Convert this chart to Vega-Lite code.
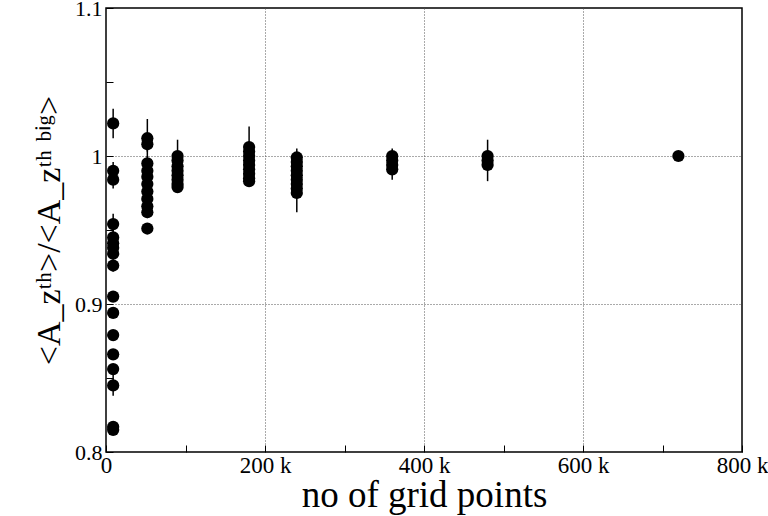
{
  "$schema": "https://vega.github.io/schema/vega-lite/v6.json",
  "width": 636,
  "height": 444,
  "autosize": {"type": "none"},
  "padding": {"left": 106, "top": 8, "right": 26, "bottom": 64},
  "background": "white",
  "config": {
    "font": "Liberation Serif",
    "view": {"stroke": "black", "strokeWidth": 1.5},
    "axis": {"domain": false}
  },
  "data": {
    "values": [
      {"n": 9000, "r": 1.022, "e": 0.010},
      {"n": 9000, "r": 0.990, "e": 0.006},
      {"n": 9000, "r": 0.984, "e": 0.006},
      {"n": 9000, "r": 0.954, "e": 0.007},
      {"n": 9000, "r": 0.945, "e": 0.004},
      {"n": 9000, "r": 0.941, "e": 0.004},
      {"n": 9000, "r": 0.938, "e": 0.004},
      {"n": 9000, "r": 0.934, "e": 0.004},
      {"n": 9000, "r": 0.926, "e": 0.004},
      {"n": 9000, "r": 0.905, "e": 0.003},
      {"n": 9000, "r": 0.894, "e": 0.003},
      {"n": 9000, "r": 0.879, "e": 0.003},
      {"n": 9000, "r": 0.866, "e": 0.003},
      {"n": 9000, "r": 0.856, "e": 0.003},
      {"n": 9000, "r": 0.845, "e": 0.007},
      {"n": 9000, "r": 0.817, "e": 0.003},
      {"n": 9000, "r": 0.815, "e": 0.003},
      {"n": 52000, "r": 1.012, "e": 0.013},
      {"n": 52000, "r": 1.008, "e": 0.005},
      {"n": 52000, "r": 0.995, "e": 0.005},
      {"n": 52000, "r": 0.990, "e": 0.005},
      {"n": 52000, "r": 0.986, "e": 0.004},
      {"n": 52000, "r": 0.981, "e": 0.004},
      {"n": 52000, "r": 0.976, "e": 0.004},
      {"n": 52000, "r": 0.971, "e": 0.004},
      {"n": 52000, "r": 0.966, "e": 0.004},
      {"n": 52000, "r": 0.962, "e": 0.004},
      {"n": 52000, "r": 0.951, "e": 0.003},
      {"n": 90000, "r": 1.000, "e": 0.011},
      {"n": 90000, "r": 0.997, "e": 0.004},
      {"n": 90000, "r": 0.993, "e": 0.004},
      {"n": 90000, "r": 0.990, "e": 0.004},
      {"n": 90000, "r": 0.987, "e": 0.004},
      {"n": 90000, "r": 0.984, "e": 0.004},
      {"n": 90000, "r": 0.981, "e": 0.003},
      {"n": 90000, "r": 0.979, "e": 0.003},
      {"n": 180000, "r": 1.006, "e": 0.014},
      {"n": 180000, "r": 1.003, "e": 0.004},
      {"n": 180000, "r": 1.000, "e": 0.004},
      {"n": 180000, "r": 0.997, "e": 0.004},
      {"n": 180000, "r": 0.994, "e": 0.004},
      {"n": 180000, "r": 0.991, "e": 0.004},
      {"n": 180000, "r": 0.988, "e": 0.004},
      {"n": 180000, "r": 0.985, "e": 0.003},
      {"n": 180000, "r": 0.983, "e": 0.003},
      {"n": 240000, "r": 0.999, "e": 0.006},
      {"n": 240000, "r": 0.996, "e": 0.004},
      {"n": 240000, "r": 0.993, "e": 0.004},
      {"n": 240000, "r": 0.990, "e": 0.004},
      {"n": 240000, "r": 0.987, "e": 0.004},
      {"n": 240000, "r": 0.984, "e": 0.004},
      {"n": 240000, "r": 0.981, "e": 0.004},
      {"n": 240000, "r": 0.978, "e": 0.004},
      {"n": 240000, "r": 0.975, "e": 0.013},
      {"n": 360000, "r": 1.000, "e": 0.005},
      {"n": 360000, "r": 0.997, "e": 0.004},
      {"n": 360000, "r": 0.994, "e": 0.004},
      {"n": 360000, "r": 0.991, "e": 0.007},
      {"n": 480000, "r": 1.000, "e": 0.004},
      {"n": 480000, "r": 0.997, "e": 0.014},
      {"n": 480000, "r": 0.994, "e": 0.004},
      {"n": 720000, "r": 1.000, "e": 0.0}
    ]
  },
  "transform": [
    {"calculate": "datum.r - datum.e", "as": "lo"},
    {"calculate": "datum.r + datum.e", "as": "hi"}
  ],
  "encoding": {
    "x": {
      "field": "n",
      "type": "quantitative",
      "scale": {"domain": [0, 800000], "nice": false, "zero": false},
      "axis": {
        "title": "no of grid points",
        "titleFontSize": 37,
        "titleFontWeight": "normal",
        "titleColor": "black",
        "titlePadding": 0,
        "values": [0, 100000, 200000, 300000, 400000, 500000, 600000, 700000, 800000],
        "labelExpr": "datum.value == 0 ? '0' : (round(datum.value/1000) % 200 == 0 ? round(datum.value/1000) + ' k' : '')",
        "labelFontSize": 23,
        "labelColor": "black",
        "labelPadding": 9,
        "labelFlush": false,
        "tickSize": -7,
        "tickColor": "black",
        "tickWidth": 1,
        "grid": true,
        "gridColor": "#555",
        "gridDash": [1, 2],
        "gridWidth": 1,
        "gridOpacity": {"condition": {"test": "round(datum.value/1000) % 200 == 0 && datum.value > 0 && datum.value < 800000", "value": 1}, "value": 0}
      }
    },
    "y": {
      "field": "r",
      "type": "quantitative",
      "scale": {"domain": [0.8, 1.1], "nice": false, "zero": false},
      "axis": {
        "title": "<A_zᵗʰ>/<A_zᵗʰ ᵇⁱᵍ>",
        "titleFontSize": 34,
        "titleFontWeight": "normal",
        "titleColor": "black",
        "titlePadding": 8,
        "values": [0.8, 0.85, 0.9, 0.95, 1.0, 1.05, 1.1],
        "labelExpr": "round(datum.value*100) % 10 == 0 ? format(datum.value, '~g') : ''",
        "labelFontSize": 22,
        "labelColor": "black",
        "labelPadding": 11,
        "labelFlush": false,
        "labelOverlap": false,
        "tickSize": -7,
        "tickColor": "black",
        "tickWidth": 1,
        "grid": true,
        "gridColor": "#555",
        "gridDash": [1, 2],
        "gridWidth": 1,
        "gridOpacity": {"condition": {"test": "abs(datum.value - 0.9) < 0.001 || abs(datum.value - 1.0) < 0.001", "value": 1}, "value": 0}
      }
    }
  },
  "layer": [
    {
      "mark": {"type": "rule", "color": "black", "strokeWidth": 1.5},
      "encoding": {
        "y": {"field": "lo", "type": "quantitative"},
        "y2": {"field": "hi"}
      }
    },
    {
      "mark": {"type": "circle", "color": "black", "opacity": 1, "size": 150}
    }
  ]
}
